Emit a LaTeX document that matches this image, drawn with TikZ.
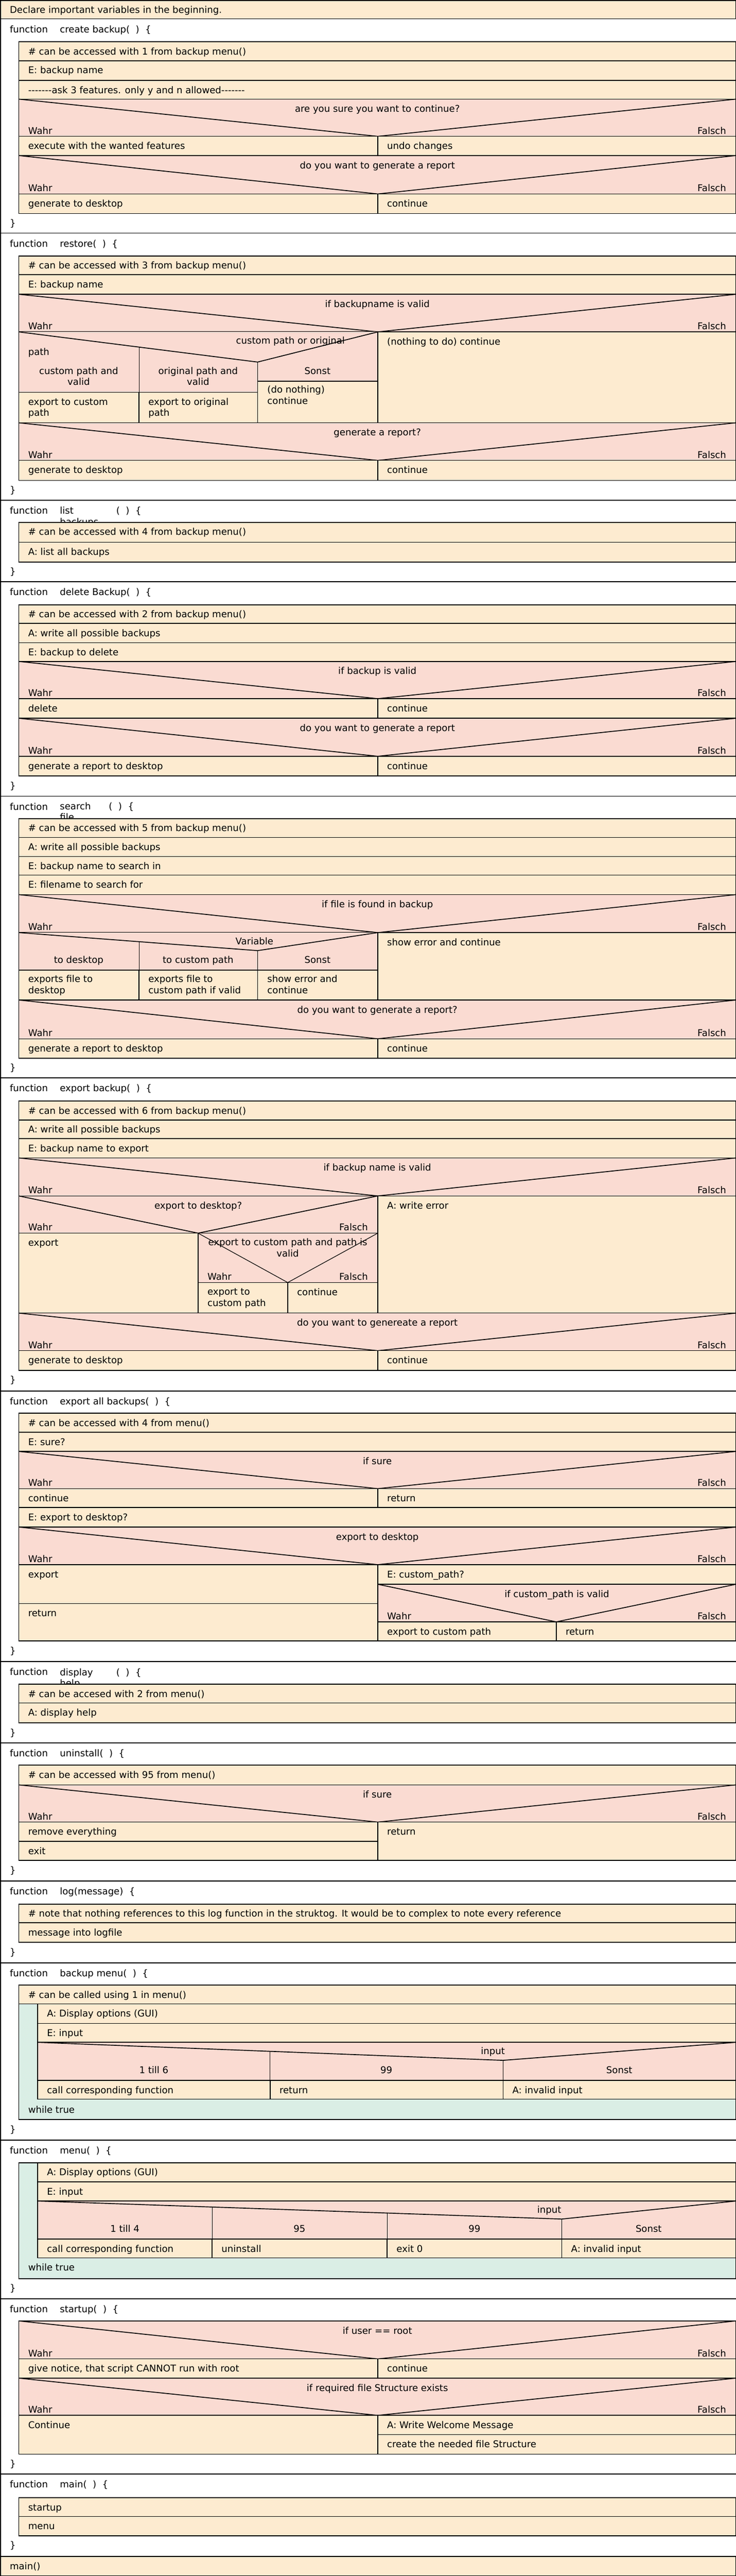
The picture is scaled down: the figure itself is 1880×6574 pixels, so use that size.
\documentclass[tikz,border=0pt]{standalone}
\usepackage{fontspec}
\setmainfont{DejaVu Sans}
\definecolor{cream}{HTML}{FDEBD0}
\definecolor{pinkc}{HTML}{FADBD2}
\definecolor{greenc}{HTML}{DAEEE5}
\newcount\nodec
\newcommand\TL[3]{\global\advance\nodec by 1\relax\node[txt,anchor=base west] (t\the\nodec) at ({#1},{#2}) {#3};}
\newcommand\TC[3]{\global\advance\nodec by 1\relax\node[txt,anchor=base] (t\the\nodec) at ({#1},{#2}) {#3};}
\newcommand\TR[3]{\global\advance\nodec by 1\relax\node[txt,anchor=base east] (t\the\nodec) at ({#1},{#2}) {#3};}
\newcommand\Row[5]{\filldraw[cell] ({#1},{#3}) rectangle ({#2},{#4}); \TL{#1+24}{#3+33}{#5}}
\newcommand\Cond[6]{\filldraw[condc] ({#1},{#3}) rectangle ({#2},{#4});
  \draw[diag] ({#1},{#3}) -- ({#5},{#4}) -- ({#2},{#3});
  \TC{(#1+#2)/2}{#3+33}{#6}\TL{#1+24}{#4-6}{Wahr}\TR{#2-25}{#4-6}{Falsch}}
\newcommand\Head[2]{\draw[sep] (0,{#1}) -- (1880,{#1}); \TL{25}{#1+35}{function}\TL{153}{#1+35}{#2}}
\newcommand\Close[1]{\TL{25}{#1}{\}}}
\newcommand\Frame[2]{\draw[sep] (48,{#1}) rectangle (1880,{#2});}
\newcommand\hy{\mbox{-}}
\newcommand\dashes{\hy\hy\hy\hy\hy\hy\hy}
\newcommand\prm{(\ \ )\ \ \{}
\begin{document}
\begin{tikzpicture}[x=1pt,y=-1pt,
  txt/.style={inner sep=0pt,outer sep=0pt,font=\fontsize{23.8}{28}\selectfont,text=black},
  cell/.style={fill=cream,draw=black,line width=2pt},
  condc/.style={fill=pinkc,draw=black,line width=2pt},
  loopc/.style={fill=greenc,draw=black,line width=2pt},
  diag/.style={draw=black,line width=2.2pt,line join=miter},
  thin/.style={draw=black,line width=1.2pt},
  sep/.style={draw=black,line width=2.5pt}]
\useasboundingbox (0,0) rectangle (1880,6574);
\fill[white] (0,0) rectangle (1880,6574);
% declare
\filldraw[cell] (0,0) rectangle (1880,48);
\TL{25}{34}{Declare important variables in the beginning.}
% ---------- create backup
\Head{48}{create backup\prm}
\Row{48}{1880}{107}{155}{\# can be accessed with 1 from backup menu()}
\Row{48}{1880}{155}{205}{E: backup name}
\Row{48}{1880}{205}{253}{\dashes ask 3 features. only y and n allowed\dashes}
\Cond{48}{1880}{253}{348}{965}{are you sure you want to continue?}
\Row{48}{965}{348}{397}{execute with the wanted features}
\Row{965}{1880}{348}{397}{undo changes}
\Cond{48}{1880}{397}{495}{965}{do you want to generate a report}
\Row{48}{965}{495}{545}{generate to desktop}
\Row{965}{1880}{495}{545}{continue}
\Frame{107}{545}
\Close{578}
% ---------- restore
\Head{595}{restore\prm}
\Row{48}{1880}{653}{701}{\# can be accessed with 3 from backup menu()}
\Row{48}{1880}{701}{751}{E: backup name}
\Cond{48}{1880}{751}{847}{965}{if backupname is valid}
\fill[pinkc] (48,847) rectangle (965,1001);
\filldraw[cell] (48,1001) rectangle (355,1079);
\filldraw[cell] (355,1001) rectangle (658,1079);
\filldraw[cell] (658,973) rectangle (965,1079);
\draw[diag] (48,847) -- (658,924) -- (965,847);
\draw[thin] (355,886) -- (355,1001);
\draw[thin] (658,924) -- (658,973);
\TC{742}{878}{custom path or original}
\TL{72}{907}{path}
\TC{201}{955}{custom path and}\TC{201}{983}{valid}
\TC{506}{955}{original path and}\TC{506}{983}{valid}
\TC{811}{955}{Sonst}
\TL{72}{1034}{export to custom}\TL{72}{1062}{path}
\TL{379}{1034}{export to original}\TL{379}{1062}{path}
\TL{683}{1003}{(do nothing)}\TL{683}{1031}{continue}
\Row{965}{1880}{847}{1079}{(nothing to do) continue}
\Cond{48}{1880}{1079}{1175}{965}{generate a report?}
\Row{48}{965}{1175}{1226}{generate to desktop}
\Row{965}{1880}{1175}{1226}{continue}
\Frame{653}{1226}
\Close{1259}
% ---------- list backups
\Head{1277}{}
\TL{153}{1312}{list}\TL{153}{1340}{backups}\TL{297}{1312}{\prm}
\Row{48}{1880}{1333}{1384}{\# can be accessed with 4 from backup menu()}
\Row{48}{1880}{1384}{1434}{A: list all backups}
\Frame{1333}{1434}
\Close{1467}
% ---------- delete backup
\Head{1484}{delete Backup\prm}
\Row{48}{1880}{1543}{1591}{\# can be accessed with 2 from backup menu()}
\Row{48}{1880}{1591}{1640}{A: write all possible backups}
\Row{48}{1880}{1640}{1688}{E: backup to delete}
\Cond{48}{1880}{1688}{1783}{965}{if backup is valid}
\Row{48}{965}{1783}{1833}{delete}
\Row{965}{1880}{1783}{1833}{continue}
\Cond{48}{1880}{1833}{1930}{965}{do you want to generate a report}
\Row{48}{965}{1930}{1980}{generate a report to desktop}
\Row{965}{1880}{1930}{1980}{continue}
\Frame{1543}{1980}
\Close{2013}
% ---------- search file
\Head{2032}{}
\TL{153}{2066}{search}\TL{153}{2094}{file}\TL{278}{2066}{\prm}
\Row{48}{1880}{2089}{2137}{\# can be accessed with 5 from backup menu()}
\Row{48}{1880}{2137}{2186}{A: write all possible backups}
\Row{48}{1880}{2186}{2233}{E: backup name to search in}
\Row{48}{1880}{2233}{2283}{E: filename to search for}
\Cond{48}{1880}{2283}{2380}{965}{if file is found in backup}
\fill[pinkc] (48,2380) rectangle (965,2476);
\filldraw[cell] (48,2476) rectangle (355,2552);
\filldraw[cell] (355,2476) rectangle (658,2552);
\filldraw[cell] (658,2476) rectangle (965,2552);
\draw[diag] (48,2380) -- (658,2426) -- (965,2380);
\draw[thin] (355,2404) -- (355,2476);
\draw[thin] (658,2426) -- (658,2476);
\TC{650}{2410}{Variable}
\TC{201}{2458}{to desktop}\TC{506}{2458}{to custom path}\TC{811}{2458}{Sonst}
\TL{72}{2507}{exports file to}\TL{72}{2535}{desktop}
\TL{379}{2507}{exports file to}\TL{379}{2535}{custom path if valid}
\TL{683}{2507}{show error and}\TL{683}{2535}{continue}
\Row{965}{1880}{2380}{2552}{show error and continue}
\Cond{48}{1880}{2552}{2651}{965}{do you want to generate a report?}
\Row{48}{965}{2651}{2700}{generate a report to desktop}
\Row{965}{1880}{2651}{2700}{continue}
\Frame{2089}{2700}
\Close{2733}
% ---------- export backup
\Head{2751}{export backup\prm}
\Row{48}{1880}{2810}{2858}{\# can be accessed with 6 from backup menu()}
\Row{48}{1880}{2858}{2906}{A: write all possible backups}
\Row{48}{1880}{2906}{2955}{E: backup name to export}
\Cond{48}{1880}{2955}{3052}{965}{if backup name is valid}
\Cond{48}{965}{3052}{3147}{506}{export to desktop?}
\Row{48}{506}{3147}{3351}{export}
\filldraw[condc] (506,3147) rectangle (965,3273);
\draw[diag,line width=1.6pt] (506,3147) -- (735,3273) -- (965,3147);
\TC{735}{3179}{export to custom path and path is}\TC{735}{3208}{valid}
\TL{530}{3267}{Wahr}\TR{940}{3267}{Falsch}
\filldraw[cell] (506,3273) rectangle (735,3351);
\TL{530}{3305}{export to}\TL{530}{3333}{custom path}
\Row{735}{965}{3273}{3351}{continue}
\Row{965}{1880}{3052}{3351}{A: write error}
\Cond{48}{1880}{3351}{3447}{965}{do you want to genereate a report}
\Row{48}{965}{3447}{3497}{generate to desktop}
\Row{965}{1880}{3447}{3497}{continue}
\Frame{2810}{3497}
\Close{3530}
% ---------- export all backups
\Head{3550}{export all backups\prm}
\Row{48}{1880}{3607}{3655}{\# can be accessed with 4 from menu()}
\Row{48}{1880}{3655}{3704}{E: sure?}
\Cond{48}{1880}{3704}{3799}{965}{if sure}
\Row{48}{965}{3799}{3847}{continue}
\Row{965}{1880}{3799}{3847}{return}
\Row{48}{1880}{3847}{3897}{E: export to desktop?}
\Cond{48}{1880}{3897}{3993}{965}{export to desktop}
\Row{48}{965}{3993}{4092}{export}
\Row{48}{965}{4092}{4188}{return}
\Row{965}{1880}{3993}{4043}{E: custom\_path?}
\Cond{965}{1880}{4043}{4139}{1421}{if custom\_path is valid}
\Row{965}{1421}{4139}{4188}{export to custom path}
\Row{1421}{1880}{4139}{4188}{return}
\Frame{3607}{4188}
\Close{4221}
% ---------- display help
\Head{4240}{}
\TL{153}{4276}{display}\TL{153}{4304}{help}\TL{297}{4276}{\prm}
\Row{48}{1880}{4298}{4346}{\# can be accesed with 2 from menu()}
\Row{48}{1880}{4346}{4397}{A: display help}
\Frame{4298}{4397}
\Close{4430}
% ---------- uninstall
\Head{4448}{uninstall\prm}
\Row{48}{1880}{4505}{4555}{\# can be accessed with 95 from menu()}
\Cond{48}{1880}{4555}{4650}{965}{if sure}
\Row{48}{965}{4650}{4699}{remove everything}
\Row{48}{965}{4699}{4748}{exit}
\Row{965}{1880}{4650}{4748}{return}
\Frame{4505}{4748}
\Close{4781}
% ---------- log
\Head{4800}{log(message)\ \ \{}
\Row{48}{1880}{4859}{4907}{\# note that nothing references to this log function in the struktog. It would be to complex to note every reference}
\Row{48}{1880}{4907}{4957}{message into logfile}
\Frame{4859}{4957}
\Close{4990}
% ---------- backup menu
\Head{5009}{backup menu\prm}
\Row{48}{1880}{5066}{5114}{\# can be called using 1 in menu()}
\filldraw[loopc] (48,5114) rectangle (1880,5409);
\Row{96}{1880}{5114}{5164}{A: Display options (GUI)}
\Row{96}{1880}{5164}{5212}{E: input}
\filldraw[condc] (96,5212) rectangle (1880,5309);
\draw[diag] (96,5212) -- (1285,5258) -- (1880,5212);
\draw[thin] (690,5235) -- (690,5309);
\draw[thin] (1285,5258) -- (1285,5309);
\TC{1259}{5243}{input}
\TC{393}{5291}{1 till 6}\TC{987}{5291}{99}\TC{1582}{5291}{Sonst}
\Row{96}{690}{5309}{5357}{call corresponding function}
\Row{690}{1285}{5309}{5357}{return}
\Row{1285}{1880}{5309}{5357}{A: invalid input}
\TL{72}{5392}{while true}
\Frame{5066}{5409}
\Close{5442}
% ---------- menu
\Head{5462}{menu\prm}
\filldraw[loopc] (48,5519) rectangle (1880,5815);
\Row{96}{1880}{5519}{5568}{A: Display options (GUI)}
\Row{96}{1880}{5568}{5617}{E: input}
\filldraw[condc] (96,5617) rectangle (1880,5714);
\draw[diag] (96,5617) -- (1435,5663) -- (1880,5617);
\draw[thin] (542,5632) -- (542,5714);
\draw[thin] (989,5648) -- (989,5714);
\draw[thin] (1435,5663) -- (1435,5714);
\TC{1403}{5648}{input}
\TC{319}{5696}{1 till 4}\TC{765}{5696}{95}\TC{1212}{5696}{99}\TC{1657}{5696}{Sonst}
\Row{96}{542}{5714}{5762}{call corresponding function}
\Row{542}{989}{5714}{5762}{uninstall}
\Row{989}{1435}{5714}{5762}{exit 0}
\Row{1435}{1880}{5714}{5762}{A: invalid input}
\TL{72}{5795}{while true}
\Frame{5519}{5815}
\Close{5848}
% ---------- startup
\Head{5867}{startup\prm}
\Cond{48}{1880}{5923}{6020}{965}{if user == root}
\Row{48}{965}{6020}{6069}{give notice, that script CANNOT run with root}
\Row{965}{1880}{6020}{6069}{continue}
\Cond{48}{1880}{6069}{6164}{965}{if required file Structure exists}
\Row{48}{965}{6164}{6263}{Continue}
\Row{965}{1880}{6164}{6213}{A: Write Welcome Message}
\Row{965}{1880}{6213}{6263}{create the needed file Structure}
\Frame{5923}{6263}
\Close{6296}
% ---------- main
\Head{6314}{main\prm}
\Row{48}{1880}{6374}{6422}{startup}
\Row{48}{1880}{6422}{6471}{menu}
\Frame{6374}{6471}
\Close{6504}
\filldraw[cell,line width=2.5pt] (0,6524) rectangle (1880,6574);
\TL{25}{6558}{main()}
% outer frame
\draw[sep] (1,0) -- (1,6574);
\draw[sep] (0,1) -- (1880,1);
\end{tikzpicture}
\end{document}
